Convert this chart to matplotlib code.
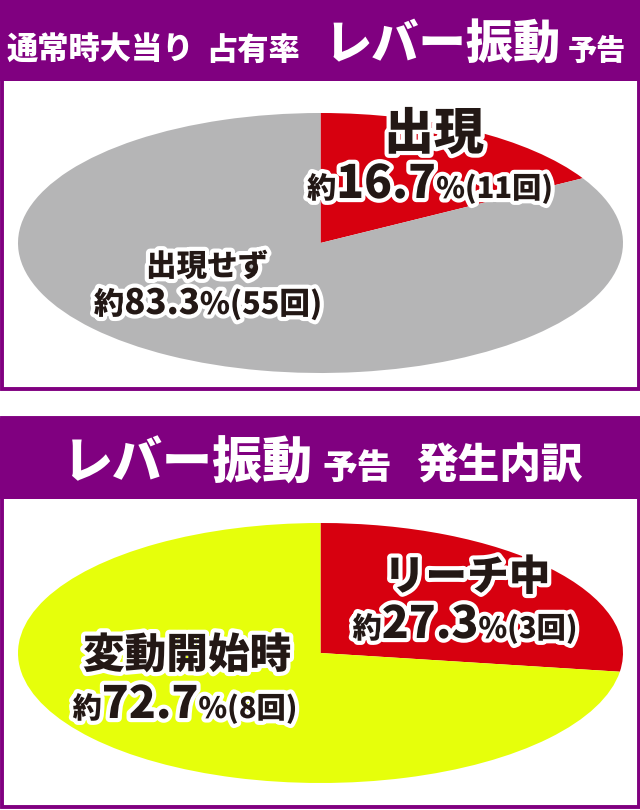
import matplotlib
matplotlib.use("Agg")
import matplotlib.pyplot as plt
import matplotlib.patheffects as pe
from matplotlib.patches import Rectangle

plt.rcParams['font.family'] = ['Noto Sans CJK JP', 'DejaVu Sans']

PURPLE = "#800080"
INK = "#231815"

# data: upper chart (share of lever-vibration notice in normal-time hits)
top_labels = ["出現", "出現せず"]
top_values = [16.7, 83.3]
top_counts = [11, 55]
top_colors = ["#D7000F", "#B5B5B6"]

# data: lower chart (when the notice occurs)
bottom_labels = ["リーチ中", "変動開始時"]
bottom_values = [27.3, 72.7]
bottom_counts = [3, 8]
bottom_colors = ["#D7000F", "#E6FF0B"]

W, H = 640, 810
fig = plt.figure(figsize=(W / 100, H / 100), dpi=100)


def pie_axes(left, top, width, height, values, colors):
    ax = fig.add_axes([left / W, 1 - (top + height) / H, width / W, height / H])
    ax.pie(values, colors=colors, startangle=90, counterclock=False, radius=1,
           wedgeprops=dict(linewidth=0))
    ax.set_aspect("auto")
    ax.set_xlim(-1, 1)
    ax.set_ylim(-1, 1)
    ax.axis("off")
    return ax


pie_axes(18, 113, 605, 260, top_values, top_colors)
pie_axes(18, 523, 605, 260, bottom_values, bottom_colors)

# overlay in pixel coordinates for frames and text
ov = fig.add_axes([0, 0, 1, 1])
ov.set_xlim(0, W)
ov.set_ylim(H, 0)
ov.axis("off")
ov.patch.set_visible(False)

ov.add_patch(Rectangle((0, 0), W, 81, facecolor=PURPLE, edgecolor="none"))
ov.add_patch(Rectangle((1.5, 1.5), W - 3, 387, fill=False, edgecolor=PURPLE, lw=2.8))
ov.add_patch(Rectangle((0, 418), W, 81, facecolor=PURPLE, edgecolor="none"))
ov.add_patch(Rectangle((1.5, 418), W - 3, 389, fill=False, edgecolor=PURPLE, lw=2.8))

renderer = fig.canvas.get_renderer()
outline = [pe.withStroke(linewidth=6, foreground="white")]


def header(pieces, y):
    for s, x, size in pieces:
        ov.text(x, y, s, fontsize=size, fontweight="heavy", color="white",
                ha="left", va="baseline")


def label_line(xc, y, pieces):
    texts = []
    for s, size in pieces:
        t = ov.text(0, y, s, fontsize=size, fontweight="heavy", color=INK,
                    ha="left", va="baseline", path_effects=outline)
        texts.append(t)
    widths = [t.get_window_extent(renderer).width for t in texts]
    x = xc - sum(widths) / 2
    for t, w in zip(texts, widths):
        t.set_x(x)
        x += w


header([("通常時大当り", 7, 22.5), ("占有率", 206, 22.5),
        ("レバー振動", 325, 34), ("予告", 568, 21)], 60)
header([("レバー振動", 63, 36), ("予告", 322, 25), ("発生内訳", 416, 30)], 479)


def value_pieces(val, cnt, big, small):
    return [("約", small), (f"{val:.1f}", big), (f"%({cnt}回)", small)]


# upper labels
label_line(434, 149, [(top_labels[0], 36)])
label_line(430, 198, value_pieces(top_values[0], top_counts[0], 33, 21))
label_line(207, 276, [(top_labels[1], 22)])
label_line(208, 314, value_pieces(top_values[1], top_counts[1], 25, 22))

# lower labels
label_line(467, 590, [(bottom_labels[0], 30)])
label_line(465, 638, value_pieces(bottom_values[0], bottom_counts[0], 32, 21))
label_line(187, 668, [(bottom_labels[1], 30)])
label_line(185, 718, value_pieces(bottom_values[1], bottom_counts[1], 32, 21))

fig.savefig("out.png", dpi=100)
